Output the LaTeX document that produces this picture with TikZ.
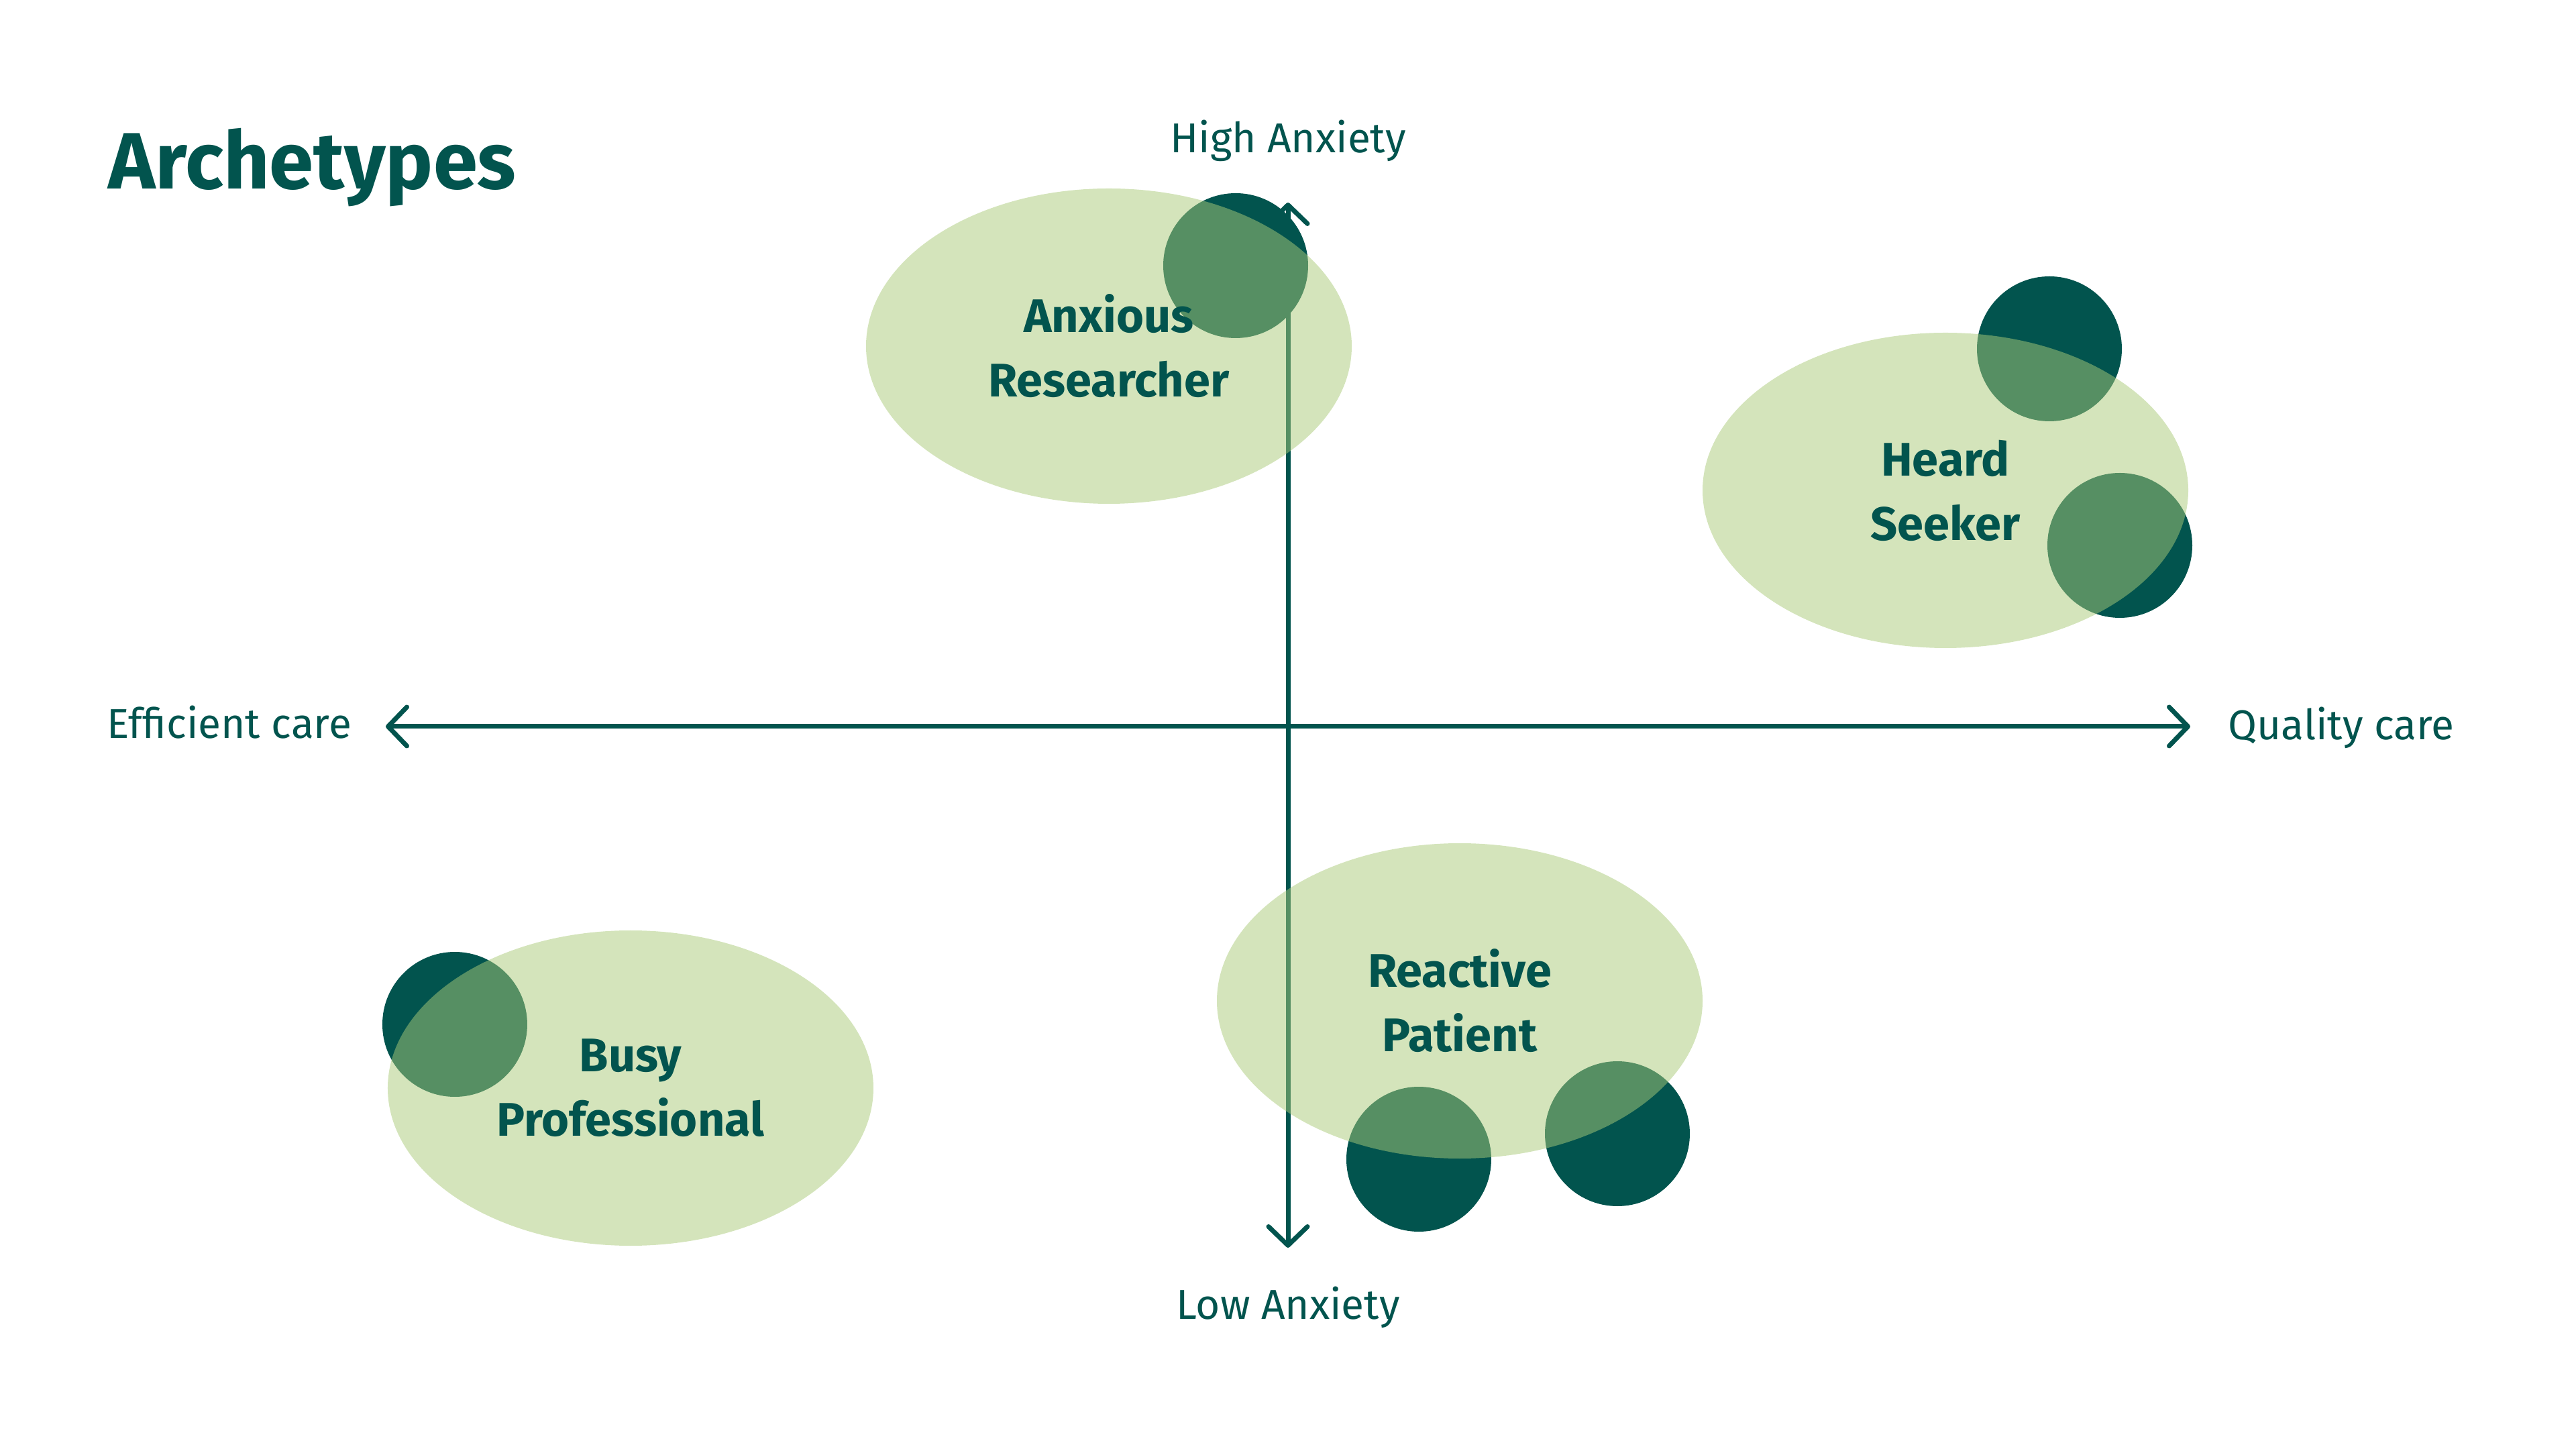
\documentclass[tikz,border=0pt]{standalone}
\usepackage{fontspec}
\setmainfont{Fira Sans}
\usetikzlibrary{arrows.meta,shapes.geometric}

\definecolor{pine}{RGB}{2,84,78}
\definecolor{sage}{RGB}{170,202,120}

\begin{document}
\begin{tikzpicture}[>={Straight Barb[length=2.8mm,width=5.8mm,round]},
  axis/.style={draw=pine, line width=0.7mm, line cap=round},
  axlabel/.style={text=pine, inner sep=0, font=\fontsize{17.7}{21}\selectfont},
  bubble/.style={circle, fill=pine, minimum size=2.16cm, inner sep=0},
  persona/.style={ellipse, fill=sage, fill opacity=0.5, text opacity=1,
    text=pine, align=center, inner sep=0,
    minimum width=7.24cm, minimum height=4.7cm,
    font=\bfseries\fontsize{20}{27.3}\selectfont}]

% Frame
\useasboundingbox (-19.2,-10.77) rectangle (19.2,10.83);

% Title
\node[anchor=base west, inner sep=0, text=pine,
  font=\bfseries\fontsize{33.9}{40}\selectfont] (title) at (-17.59,8.01) {Archetypes};

% Axis ends
\coordinate (top) at (0,7.81);
\coordinate (bot) at (0,-7.77);
\coordinate (lft) at (-13.45,0);
\coordinate (rgt) at (13.45,0);

% Axes
\draw[axis, <->] (lft) -- (rgt);
\draw[axis, <->] (bot) -- (top);

% Axis labels
\node[axlabel, anchor=base] (high) at (0,8.55) {High Anxiety};
\node[axlabel, anchor=base] (low) at (0,-8.83) {Low Anxiety};
\node[axlabel, anchor=base west] (eff) at (-17.61,-0.18) {Efficient care};
\node[axlabel, anchor=base west] (qual) at (14.01,-0.2) {Quality care};

% Dark bubbles (under the ellipses)
\node[bubble] (arDot) at (-0.78,6.87) {};
\node[bubble] (hsDotA) at (11.35,5.63) {};
\node[bubble] (hsDotB) at (12.40,2.70) {};
\node[bubble] (rpDotA) at (1.95,-6.45) {};
\node[bubble] (rpDotB) at (4.91,-6.07) {};
\node[bubble] (bpDot) at (-12.42,-4.44) {};

% Archetypes
\node[persona] (anxious) at (-2.67,5.67) {Anxious\\Researcher};
\node[persona] (heard) at (9.80,3.52) {Heard\\Seeker};
\node[persona] (reactive) at (2.56,-4.09) {Reactive\\Patient};
\node[persona] (busy) at (-9.80,-5.39) {Busy\\Professional};

\end{tikzpicture}
\end{document}
